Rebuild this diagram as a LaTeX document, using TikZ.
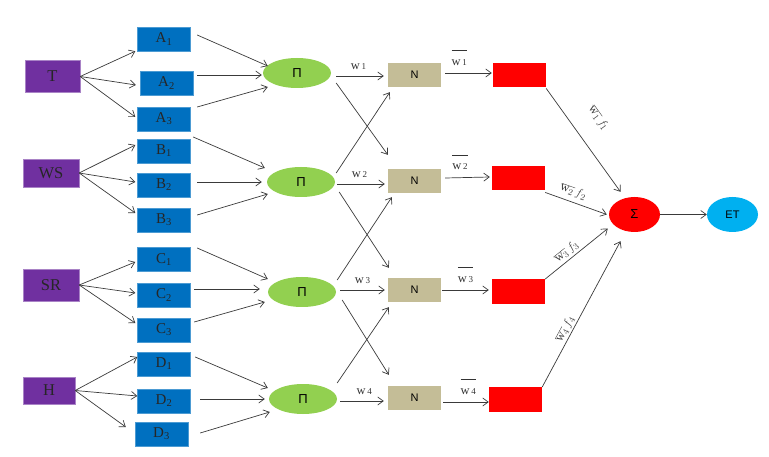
\documentclass[tikz,border=0pt]{standalone}
\usepackage{fontspec}
\setmainfont{Liberation Serif}
\newfontfamily\sansf{Liberation Sans}
\usetikzlibrary{arrows.meta,shapes.geometric}
\definecolor{purp}{HTML}{7030A0}
\definecolor{blu}{HTML}{0070C0}
\definecolor{grn}{HTML}{92D050}
\definecolor{tan}{HTML}{C4BD97}
\definecolor{rd}{HTML}{FF0000}
\definecolor{cyn}{HTML}{00B0F0}
\definecolor{linec}{HTML}{3A3A3A}
\newcommand{\wlab}[1]{{\fontsize{12.5}{12.5}\selectfont w}\,{\fontsize{9}{9}\selectfont #1}}
\newcommand{\wbar}[1]{$\overline{\rule{0pt}{13pt}\mbox{\wlab{#1}}}$}
\newcommand{\wf}[1]{$\overline{\mathrm{w}_{#1}}\,f_{#1}$}
\begin{document}
\begin{tikzpicture}[x=1pt,y=-1pt,
  arr/.style={draw=linec, line width=0.7pt, -{Straight Barb[length=5.5pt,width=8pt,line width=0.7pt]}},
  inbox/.style={fill=purp, draw=purp!60, line width=0.4pt, minimum width=55pt, minimum height=32pt, inner sep=0pt, text=black!85, font=\fontsize{16.5}{16.5}\selectfont},
  mfbox/.style={fill=blu, draw=blu!70, line width=0.4pt, minimum width=53pt, minimum height=24pt, inner sep=0pt, text=black!85, font=\fontsize{15}{15}\selectfont},
  prod/.style={ellipse, fill=grn, minimum width=68pt, minimum height=30pt, inner sep=0pt, font=\sansf\fontsize{13}{13}\selectfont},
  normbox/.style={fill=tan, minimum width=53pt, minimum height=24pt, inner sep=0pt, font=\sansf\fontsize{11}{11}\selectfont},
  outbox/.style={fill=rd, minimum width=53pt, minimum height=24.5pt, inner sep=0pt},
  sumnode/.style={ellipse, fill=rd, minimum width=51pt, minimum height=35pt, inner sep=0pt, font=\sansf\fontsize{13}{13}\selectfont},
  etnode/.style={ellipse, fill=cyn, minimum width=51pt, minimum height=35pt, inner sep=0pt, font=\sansf\fontsize{11}{11}\selectfont},
  wl/.style={inner sep=0.5pt, above=6pt, text=black!80},
  wbl/.style={inner sep=0.5pt, above=7pt, text=black!80},
  fl/.style={inner sep=0.5pt, sloped, text=black!75, font=\fontsize{12.5}{12.5}\selectfont}
]
\useasboundingbox (0,0) rectangle (769,457);
% inputs
\node[inbox] (T) at (52.5,76.5) {T};
\node[inbox, minimum width=56pt, minimum height=28pt] (WS) at (51,173) {WS};
\node[inbox, minimum width=56pt, minimum height=32pt] (SR) at (51,285) {SR};
\node[inbox, minimum width=52pt, minimum height=27pt] (H) at (49,390.5) {H};
% membership functions
\node[mfbox] (A1) at (164,39) {A\textsubscript{1}};
\node[mfbox] (A2) at (166.5,83) {A\textsubscript{2}};
\node[mfbox] (A3) at (164,119) {A\textsubscript{3}};
\node[mfbox] (B1) at (164,151) {B\textsubscript{1}};
\node[mfbox] (B2) at (164,185) {B\textsubscript{2}};
\node[mfbox] (B3) at (164,220) {B\textsubscript{3}};
\node[mfbox] (C1) at (164,259.5) {C\textsubscript{1}};
\node[mfbox] (C2) at (164,295) {C\textsubscript{2}};
\node[mfbox] (C3) at (164,330) {C\textsubscript{3}};
\node[mfbox] (D1) at (164,364) {D\textsubscript{1}};
\node[mfbox] (D2) at (164,401) {D\textsubscript{2}};
\node[mfbox] (D3) at (161.5,434) {D\textsubscript{3}};
% product
\node[prod] (P1) at (297,73) {Π};
\node[prod] (P2) at (301,182) {Π};
\node[prod] (P3) at (302,292) {Π};
\node[prod] (P4) at (303,399) {Π};
% normalisation
\node[normbox] (N1) at (414.5,75) {N};
\node[normbox] (N2) at (414.5,181) {N};
\node[normbox] (N3) at (414.5,290) {N};
\node[normbox] (N4) at (414.5,398) {N};
% consequent
\node[outbox] (R1) at (519.5,75) {};
\node[outbox] (R2) at (518.5,178) {};
\node[outbox] (R3) at (518.5,291.5) {};
\node[outbox] (R4) at (515.5,399.5) {};
% sum and output
\node[sumnode] (S) at (634.5,214.5) {Σ};
\node[etnode] (ET) at (732.5,214.5) {ET};

% inputs -> MFs
\draw[arr] (T.east) -- ([xshift=-2pt]A1.south west);
\draw[arr] (T.east) -- ([xshift=-4pt,yshift=-2pt]A2.west);
\draw[arr] (T.east) -- ([xshift=-2pt,yshift=2pt]A3.west);
\draw[arr] (WS.east) -- ([xshift=-2pt,yshift=6pt]B1.west);
\draw[arr] (WS.east) -- ([xshift=-2pt,yshift=3pt]B2.west);
\draw[arr] (WS.east) -- ([xshift=-2pt,yshift=7pt]B3.west);
\draw[arr] (SR.east) -- ([xshift=-2pt,yshift=-2.5pt]C1.west);
\draw[arr] (SR.east) -- ([xshift=-2pt,yshift=2pt]C2.west);
\draw[arr] (SR.east) -- ([xshift=-2pt,yshift=7pt]C3.west);
\draw[arr] (H.east) -- ([xshift=0pt,yshift=7pt]D1.west);
\draw[arr] (H.east) -- ([xshift=0pt,yshift=5pt]D2.west);
\draw[arr] (H.east) -- ([xshift=-9pt,yshift=7pt]D3.west);
% MFs -> product
\draw[arr] ([xshift=6.5pt,yshift=4pt]A1.east) -- ([xshift=5pt,yshift=7pt]P1.west);
\draw[arr] ([xshift=4pt,yshift=8pt]A2.east) -- ([xshift=-1pt,yshift=-2pt]P1.west);
\draw[arr] ([xshift=6.5pt,yshift=12pt]A3.east) -- ([xshift=5pt,yshift=-14pt]P1.west);
\draw[arr] ([xshift=2.5pt,yshift=14pt]B1.east) -- ([xshift=-2pt,yshift=14pt]P2.west);
\draw[arr] ([xshift=6.5pt,yshift=3pt]B2.east) -- ([xshift=-5pt]P2.west);
\draw[arr] ([xshift=6.5pt,yshift=5pt]B3.east) -- ([xshift=1pt,yshift=-12pt]P2.west);
\draw[arr] ([xshift=6.5pt,yshift=11.5pt]C1.east) -- ([yshift=13pt]P3.west);
\draw[arr] ([xshift=3.5pt,yshift=6pt]C2.east) -- ([xshift=-8pt,yshift=3pt]P3.west);
\draw[arr] ([xshift=3.5pt,yshift=8pt]C3.east) -- ([xshift=-3pt,yshift=-10pt]P3.west);
\draw[arr] ([xshift=4.5pt,yshift=7pt]D1.east) -- ([xshift=-1pt,yshift=11pt]P4.west);
\draw[arr] ([xshift=9.5pt,yshift=2pt]D2.east) -- ([xshift=-4pt]P4.west);
\draw[arr] ([xshift=12pt,yshift=1pt]D3.east) -- ([xshift=1pt,yshift=-13pt]P4.west);
% product -> normalisation
\draw[arr] ([xshift=5pt,yshift=-3pt]P1.east) -- node[wl, pos=0.47] {\wlab{1}} ([xshift=-4pt,yshift=-1pt]N1.west);
\draw[arr] ([xshift=5pt,yshift=-10pt]P1.east) -- ([yshift=14pt]N2.north west);
\draw[arr] ([xshift=1pt,yshift=9pt]P2.east) -- ([xshift=2pt,yshift=-5pt]N1.south west);
\draw[arr] ([xshift=2pt,yshift=-2pt]P2.east) -- node[wl, pos=0.47] {\wlab{2}} ([xshift=-3pt,yshift=-3pt]N2.west);
\draw[arr] ([xshift=4pt,yshift=-10pt]P2.east) -- ([xshift=1pt,yshift=10pt]N3.north west);
\draw[arr] ([xshift=1pt,yshift=12pt]P3.east) -- ([xshift=4pt,yshift=-4pt]N2.south west);
\draw[arr] ([xshift=4pt,yshift=2pt]P3.east) -- node[wl, pos=0.5] {\wlab{3}} ([xshift=-3pt]N3.west);
\draw[arr] ([xshift=6pt,yshift=-8pt]P3.east) -- ([xshift=1pt,yshift=11pt]N4.north west);
\draw[arr] ([yshift=16pt]P4.east) -- ([xshift=1pt,yshift=-5pt]N3.south west);
\draw[arr] ([xshift=3pt,yshift=-2pt]P4.east) -- node[wl, pos=0.55] {\wlab{4}} ([xshift=-4pt,yshift=-3pt]N4.west);
% normalisation -> consequent
\draw[arr] ([xshift=4pt,yshift=2pt]N1.east) -- node[wbl, pos=0.3] {\wbar{1}} ([xshift=-1pt,yshift=2pt]R1.west);
\draw[arr] ([xshift=4pt]N2.east |- R2.west) -- node[wbl, pos=0.33] {\wbar{2}} ([xshift=-2pt,yshift=1pt]R2.west);
\draw[arr] ([xshift=1pt]N3.east) -- node[wbl, pos=0.5] {\wbar{3}} ([xshift=-3pt]N3.east -| R3.west);
\draw[arr] ([xshift=2pt,yshift=-4pt]N4.east) -- node[wbl, pos=0.55] {\wbar{4}} ([xshift=0pt,yshift=-4pt]N4.east -| R4.west);
% consequent -> sum
\draw[arr] ([yshift=-1pt]R1.south east) -- node[fl, pos=0.43, above=19pt] {\wf{1}} ([xshift=-14pt,yshift=5pt]S.north);
\draw[arr] ([yshift=-2pt]R2.south east) -- node[fl, pos=0.4, above=4pt] {\wf{2}} ([xshift=-2pt]S.west);
\draw[arr] (R3.north east) -- node[fl, pos=0.42, above=1.5pt] {\wf{3}} ([xshift=-1pt,yshift=-14pt]S.west);
\draw[arr] (R4.north east) -- node[fl, pos=0.375, above=1pt] {\wf{4}} ([xshift=-14pt,yshift=-9pt]S.south);
\draw[arr] (S.east) -- (ET.west);
\end{tikzpicture}
\end{document}
